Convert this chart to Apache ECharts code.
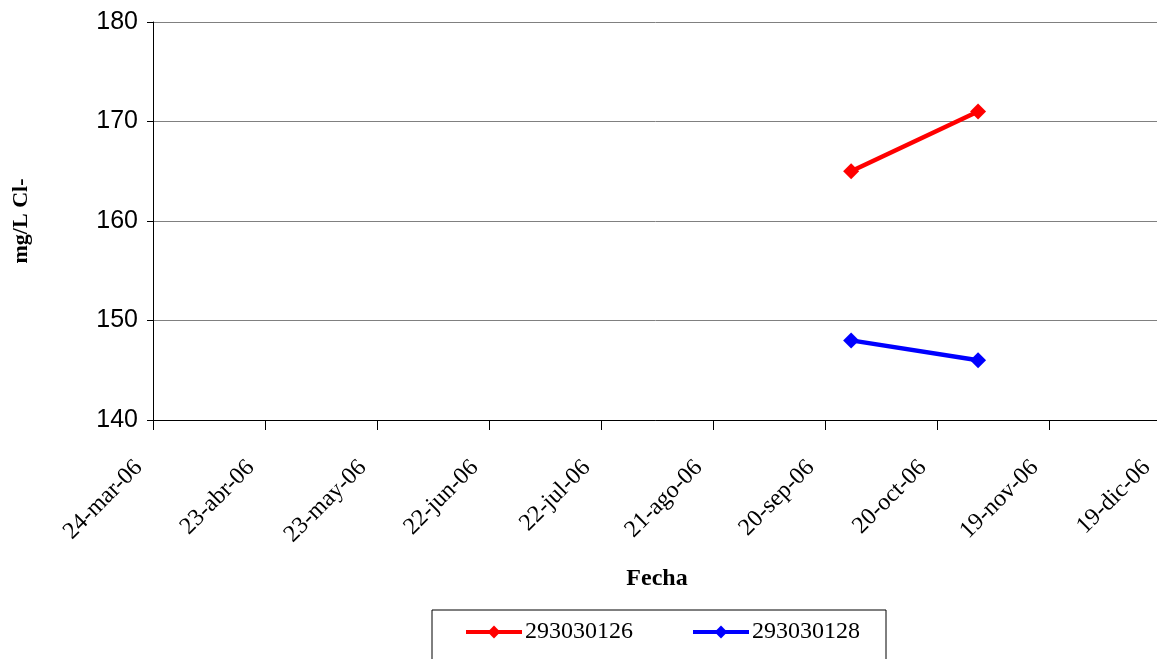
<!DOCTYPE html>
<html>
<head>
<meta charset="utf-8">
<script src="https://cdn.jsdelivr.net/npm/echarts@6/dist/echarts.min.js"></script>
<style>
html, body { margin: 0; padding: 0; background: #fff; }
#chart { width: 1157px; height: 659px; }
</style>
</head>
<body>
<div id="chart"></div>
<script>
// datos
var startDate = "2006-03-24";
var endDate = "2006-12-19";
var seriesNames = ["293030126", "293030128"];
var seriesColors = ["#ff0000", "#0000ff"];
var dates126 = ["2006-09-27", "2006-10-31"];
var values126 = [165, 171];
var dates128 = ["2006-09-27", "2006-10-31"];
var values128 = [148, 146];
var monthNames = ["ene", "feb", "mar", "abr", "may", "jun", "jul", "ago", "sep", "oct", "nov", "dic"];

var DAY = 86400000;
function toUTC(s) {
    var p = s.split("-");
    return Date.UTC(+p[0], +p[1] - 1, +p[2]);
}
var t0 = toUTC(startDate);
function dayOffset(s) {
    return Math.round((toUTC(s) - t0) / DAY);
}
function dayLabel(v) {
    var d = new Date(t0 + v * DAY);
    var dd = d.getUTCDate();
    var yy = String(d.getUTCFullYear()).slice(2);
    return dd + "-" + monthNames[d.getUTCMonth()] + "-" + yy;
}
function pairs(ds, vs) {
    return ds.map(function (d, i) { return [dayOffset(d), vs[i]]; });
}

var chart = echarts.init(document.getElementById("chart"));
chart.setOption({
    animation: false,
    grid: {
        left: 153,
        width: 1008,
        top: 22,
        height: 398,
        outerBoundsMode: "none",
        containLabel: false
    },
    legend: {
        left: 432,
        top: 610,
        padding: [10, 26, 40, 32],
        borderColor: "#000",
        borderWidth: 1,
        itemWidth: 56,
        itemHeight: 16,
        itemGap: 58,
        lineStyle: { width: 4 },
        textStyle: {
            fontFamily: "Liberation Serif",
            fontSize: 24,
            color: "#000",
            padding: [0, 0, 0, -2]
        },
        data: seriesNames
    },
    xAxis: {
        type: "value",
        min: 0,
        max: dayOffset(endDate),
        interval: 30,
        name: "Fecha",
        nameLocation: "middle",
        nameGap: 147,
        nameTextStyle: {
            fontFamily: "Liberation Serif",
            fontWeight: "bold",
            fontSize: 24,
            color: "#000"
        },
        axisLine: { show: true, lineStyle: { color: "#000", width: 1 } },
        axisTick: { show: true, length: 10, lineStyle: { color: "#000" } },
        splitLine: { show: false },
        axisLabel: {
            rotate: 45,
            margin: 30,
            padding: [0, 20, 0, 0],
            fontFamily: "Liberation Serif",
            fontSize: 24,
            color: "#000",
            formatter: dayLabel
        }
    },
    yAxis: {
        type: "value",
        min: 140,
        max: 180,
        interval: 10,
        name: "mg/L Cl-",
        nameLocation: "middle",
        nameGap: 121,
        nameRotate: 90,
        nameTextStyle: {
            fontFamily: "Liberation Serif",
            fontWeight: "bold",
            fontSize: 22,
            color: "#000"
        },
        axisLine: { show: true, lineStyle: { color: "#000", width: 1 } },
        axisTick: { show: true, length: 6, lineStyle: { color: "#000" } },
        splitLine: { show: true, lineStyle: { color: "#808080", width: 1 } },
        axisLabel: {
            margin: 15,
            fontFamily: "Liberation Sans",
            fontSize: 25,
            color: "#000"
        }
    },
    series: [
        {
            name: seriesNames[0],
            type: "line",
            data: pairs(dates126, values126),
            color: seriesColors[0],
            symbol: "diamond",
            symbolSize: 16,
            lineStyle: { width: 4.5 }
        },
        {
            name: seriesNames[1],
            type: "line",
            data: pairs(dates128, values128),
            color: seriesColors[1],
            symbol: "diamond",
            symbolSize: 16,
            lineStyle: { width: 4.5 }
        }
    ]
});
</script>
</body>
</html>
